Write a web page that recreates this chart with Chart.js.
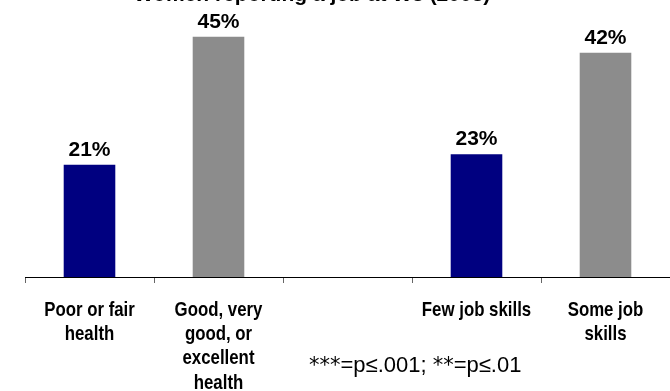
<!DOCTYPE html>
<html>
<head>
<meta charset="utf-8">
<script src="https://cdn.jsdelivr.net/npm/chart.js@4"></script>
<style>
  html, body { margin: 0; padding: 0; background: #fff; }
  #wrap { position: relative; width: 670px; height: 391px; }
</style>
</head>
<body>
<div id="wrap"><canvas id="chart" width="670" height="391"></canvas></div>
<script>
const categories = [
  ['Poor or fair', 'health'],
  ['Good, very', 'good, or', 'excellent', 'health'],
  '',
  'Few job skills',
  ['Some job', 'skills']
];
const percents = [21, 45, null, 23, 42];
const barColors = ['#000080', '#8c8c8c', '#000080', '#000080', '#8c8c8c'];
const titleText = 'Women reporting a job at W3 (2003)';
const footnote = '***=p\u2264.001; **=p\u2264.01';

const plain = "'Liberation Sans', Arial, sans-serif";
const starFont = "'DejaVu Sans', sans-serif";

// category names in a condensed bold face, placed on the x scale's tick pixels
const narrowLabels = {
  id: 'narrowLabels',
  afterDraw(chart) {
    const ctx = chart.ctx;
    const x = chart.scales.x;
    ctx.save();
    ctx.fillStyle = '#000';
    ctx.textAlign = 'center';
    ctx.textBaseline = 'alphabetic';
    ctx.font = 'bold 20.5px ' + plain;
    chart.data.labels.forEach((lab, i) => {
      const lines = Array.isArray(lab) ? lab : [lab];
      const px = x.getPixelForTick(i);
      lines.forEach((line, j) => {
        ctx.save();
        ctx.translate(px, 316 + j * 24.2);
        ctx.scale(0.82, 1);
        ctx.fillText(line, 0, 0);
        ctx.restore();
      });
    });
    ctx.restore();
  }
};

// value labels over bars, clipped heading and the significance note
const extras = {
  id: 'extras',
  afterDatasetsDraw(chart) {
    const ctx = chart.ctx;
    ctx.save();
    ctx.fillStyle = '#000';
    ctx.textAlign = 'center';
    ctx.textBaseline = 'alphabetic';
    ctx.font = 'bold 21px ' + plain;
    chart.getDatasetMeta(0).data.forEach((bar, i) => {
      if (percents[i] == null) return;
      ctx.fillText(percents[i] + '%', bar.x, bar.y - 9);
    });

    ctx.font = 'bold 21px ' + plain;
    ctx.fillText(titleText, 312, 1);

    // asterisks come from a wider face than the rest of the note
    ctx.textAlign = 'left';
    let cx = 309;
    footnote.split(/(\*+)/).filter(s => s).forEach(part => {
      ctx.font = (part[0] === '*' ? '21px ' + starFont : '22px ' + plain);
      ctx.fillText(part, cx, 372);
      cx += ctx.measureText(part).width;
    });
    ctx.restore();
  }
};

new Chart(document.getElementById('chart').getContext('2d'), {
  type: 'bar',
  data: {
    labels: categories,
    datasets: [{
      data: percents,
      backgroundColor: barColors,
      borderWidth: 0,
      barPercentage: 0.4,
      categoryPercentage: 1
    }]
  },
  options: {
    responsive: false,
    animation: false,
    layout: { padding: { left: 25, right: 0, top: 10, bottom: 0 } },
    plugins: { legend: { display: false }, tooltip: { enabled: false } },
    scales: {
      x: {
        grid: { display: true, drawOnChartArea: false, drawTicks: true, tickLength: 6, color: '#666', lineWidth: 1, offset: true },
        border: { display: true, color: '#000', width: 1 },
        ticks: { display: false, autoSkip: false },
        afterFit(scale) { scale.height = 114; }
      },
      y: {
        display: false,
        min: 0,
        max: 50
      }
    }
  },
  plugins: [extras, narrowLabels]
});
</script>
</body>
</html>
